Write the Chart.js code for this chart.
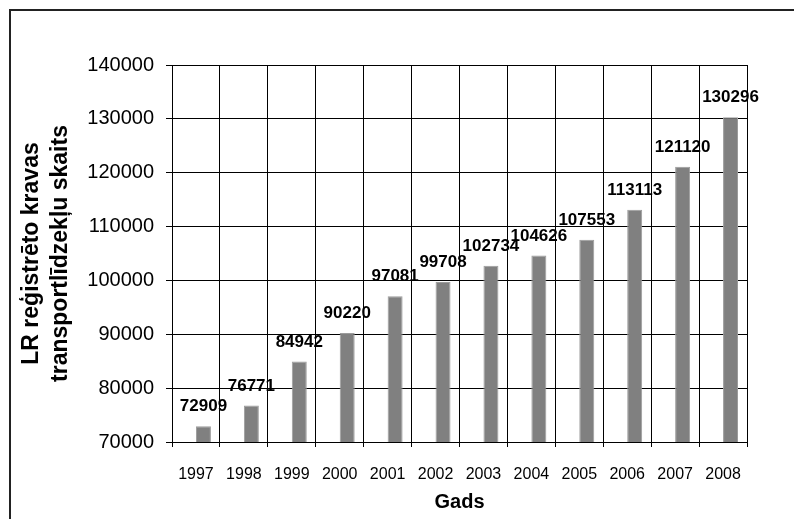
<!DOCTYPE html>
<html>
<head>
<meta charset="utf-8">
<script src="https://cdn.jsdelivr.net/npm/chart.js@4/dist/chart.umd.min.js"></script>
<style>
  html, body { margin: 0; padding: 0; background: #fff; }
  #wrap { width: 794px; height: 519px; position: relative; }
</style>
</head>
<body>
<div id="wrap"><canvas id="c" width="794" height="519"></canvas></div>
<script>
// Registered freight vehicles in Latvia, by year
const years = ['1997', '1998', '1999', '2000', '2001', '2002', '2003', '2004', '2005', '2006', '2007', '2008'];
const vehicles = [72909, 76771, 84942, 90220, 97081, 99708, 102734, 104626, 107553, 113113, 121120, 130296];
const yTicks = [70000, 80000, 90000, 100000, 110000, 120000, 130000, 140000];
const yTitle = ['LR reģistrēto kravas', 'transportlīdzekļu skaits'];
const xTitle = 'Gads';

const FONT = "'Liberation Sans', Arial, Helvetica, sans-serif";

// Outer frame around the whole figure
const framePlugin = {
  id: 'frame',
  beforeDraw(chart) {
    const ctx = chart.ctx;
    ctx.save();
    ctx.strokeStyle = '#222';
    ctx.lineWidth = 2;
    ctx.strokeRect(10, 10, 900, 600);
    ctx.restore();
  }
};

// Value printed above each bar
const valueLabels = {
  id: 'valueLabels',
  afterDatasetsDraw(chart) {
    const ctx = chart.ctx;
    const meta = chart.getDatasetMeta(1);
    ctx.save();
    ctx.font = 'bold 17px ' + FONT;
    ctx.fillStyle = '#000';
    ctx.textAlign = 'center';
    ctx.textBaseline = 'alphabetic';
    meta.data.forEach((bar, i) => {
      const v = chart.data.datasets[1].data[i];
      if (v == null) return;
      ctx.fillText(String(v), bar.x, bar.y - 15);
    });
    ctx.restore();
  }
};

new Chart(document.getElementById('c'), {
  type: 'bar',
  data: {
    labels: years,
    datasets: [
      { label: '', data: years.map(() => null), backgroundColor: 'rgba(0,0,0,0)' },
      {
        label: 'Kravas transportlīdzekļi',
        data: vehicles,
        backgroundColor: '#808080',
        borderColor: '#9c9c9c',
        borderWidth: 1
      }
    ]
  },
  options: {
    responsive: false,
    animation: false,
    devicePixelRatio: 1,
    categoryPercentage: 0.625,
    barPercentage: 1.0,
    layout: { padding: { left: 0, top: 65, right: 47, bottom: 0 } },
    plugins: {
      legend: { display: false },
      tooltip: { enabled: false }
    },
    scales: {
      x: {
        grid: { color: '#000', lineWidth: 1, offset: true, tickLength: 5, tickColor: '#000' },
        border: { color: '#000', width: 1 },
        ticks: { color: '#000', font: { family: FONT, size: 16 }, padding: 18, maxRotation: 0, autoSkip: false },
        title: {
          display: true, text: xTitle, color: '#000',
          font: { family: FONT, size: 20, weight: 'bold', lineHeight: 1.2 },
          padding: { top: 0, bottom: 5 }
        },
        afterFit(axis) { axis.height = 77; }
      },
      y: {
        min: 70000,
        max: 140000,
        grid: { color: '#000', lineWidth: 1, tickLength: 6, tickColor: '#000' },
        border: { color: '#000', width: 1 },
        ticks: {
          color: '#000',
          font: { family: FONT, size: 20 },
          padding: 12,
          callback: (v) => String(v)
        },
        afterBuildTicks(axis) { axis.ticks = yTicks.map(v => ({ value: v })); },
        title: {
          display: true, text: yTitle, color: '#000',
          font: { family: FONT, size: 23, weight: 'bold', lineHeight: 1.23 },
          padding: { top: 18, bottom: 0 }
        },
        afterFit(axis) { axis.width = 172; }
      }
    }
  },
  plugins: [framePlugin, valueLabels]
});
</script>
</body>
</html>
